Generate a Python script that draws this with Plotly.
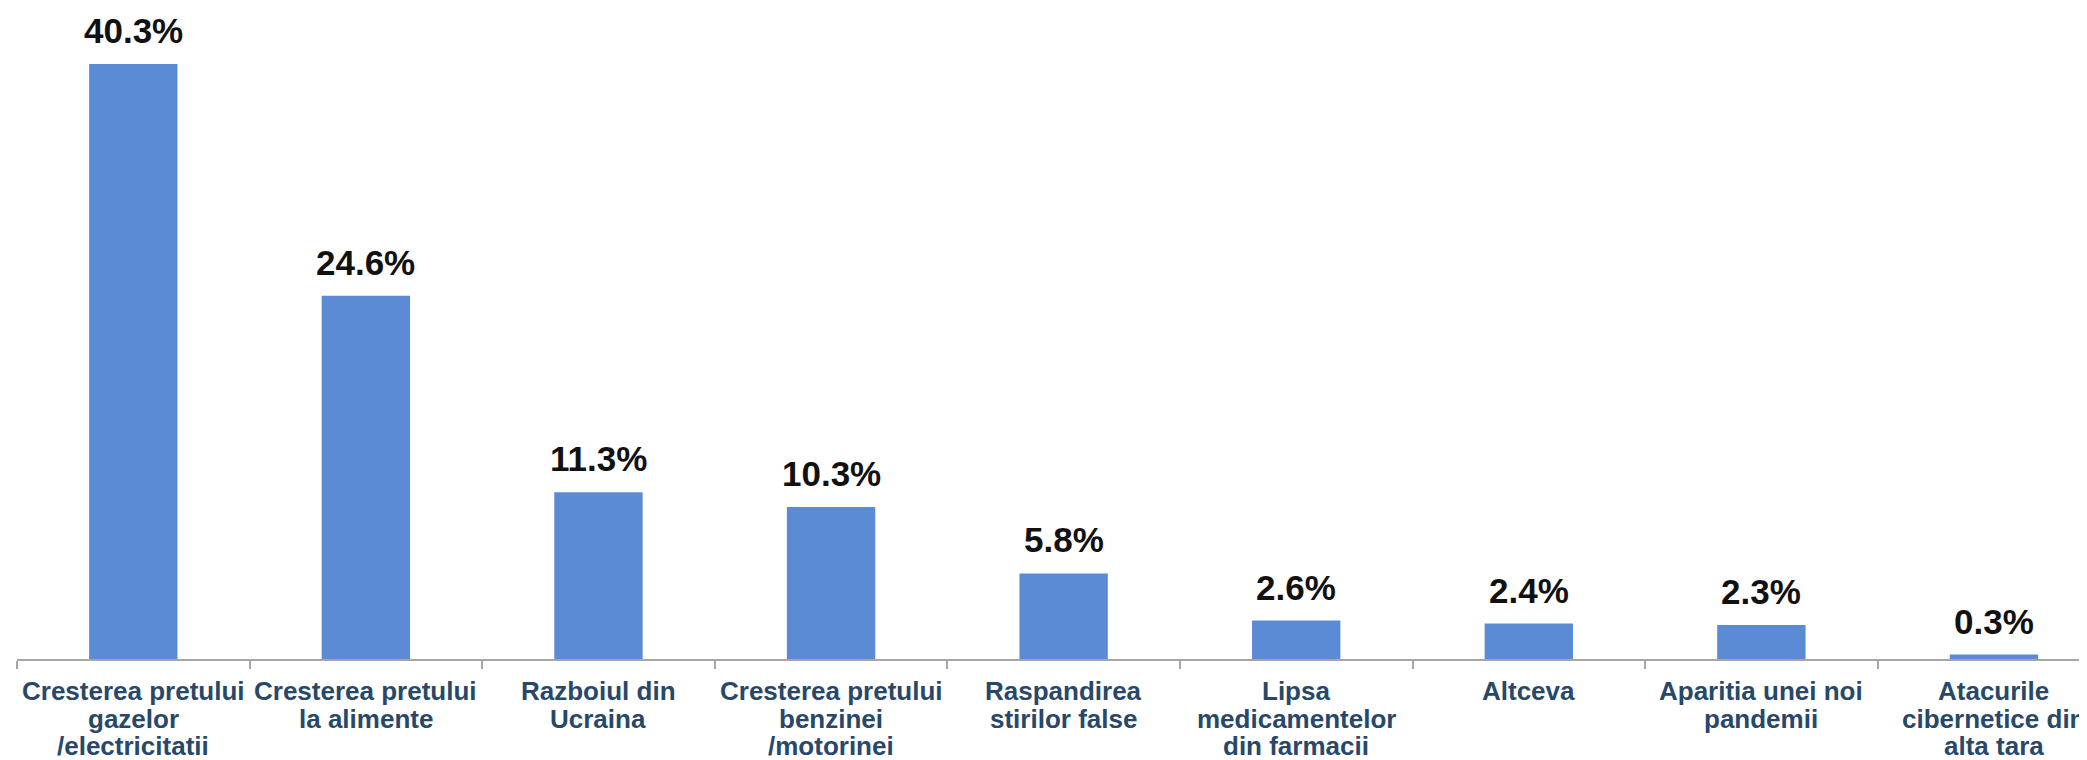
import plotly.graph_objects as go

categories = [
    "Cresterea pretului<br>gazelor<br>/electricitatii",
    "Cresterea pretului<br>la alimente",
    "Razboiul din<br>Ucraina",
    "Cresterea pretului<br>benzinei<br>/motorinei",
    "Raspandirea<br>stirilor false",
    "Lipsa<br>medicamentelor<br>din farmacii",
    "Altceva",
    "Aparitia unei noi<br>pandemii",
    "Atacurile<br>cibernetice din<br>alta tara",
]
values = [40.3, 24.6, 11.3, 10.3, 5.8, 2.6, 2.4, 2.3, 0.3]
value_labels = [f"{v:.1f}%" for v in values]

fig = go.Figure(go.Bar(
    x=categories,
    y=values,
    marker=dict(color="#5B8BD5", line=dict(width=0)),
    hoverinfo="skip",
))

for c, v, t in zip(categories, values, value_labels):
    fig.add_annotation(
        x=c, y=v, text=t, showarrow=False,
        xanchor="center", yanchor="bottom", yshift=12,
        font=dict(family="Liberation Sans, Arial", size=35, color="#111111", weight="bold"),
    )

# category labels, one annotation per line to mimic the tighter line spacing
for c in categories:
    for i, line in enumerate(c.split("<br>")):
        fig.add_annotation(
            x=c, y=0, text=line, showarrow=False,
            xanchor="center", yanchor="middle", yshift=-(32 + i * 27.5),
            font=dict(family="Liberation Sans, Arial", size=26, color="#28486A", weight="bold"),
        )

fig.update_layout(
    width=2079, height=752,
    margin=dict(l=9, r=0, t=0, b=101, autoexpand=False),
    paper_bgcolor="white", plot_bgcolor="white",
    bargap=0.62,
    showlegend=False,
    xaxis=dict(
        type="category",
        range=[-0.5, 8.4],
        showline=True, linecolor="#A6A6A6", linewidth=1.5,
        ticks="outside", ticklen=8, tickcolor="#A6A6A6", tickwidth=1.5,
        tickson="boundaries",
        showticklabels=False,
        showgrid=False, zeroline=False,
    ),
    yaxis=dict(range=[0, 44.1], visible=False, showgrid=False, zeroline=False),
)

fig.write_html("out.html")
